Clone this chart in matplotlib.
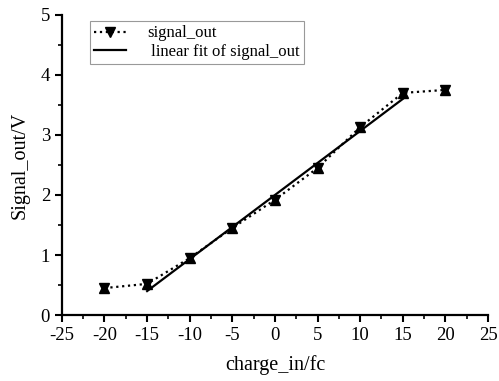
import numpy as np
import matplotlib
matplotlib.use("Agg")
import matplotlib.pyplot as plt
from matplotlib.ticker import MultipleLocator

plt.rcParams['font.family'] = ['Liberation Serif', 'DejaVu Serif']
plt.rcParams['axes.unicode_minus'] = False

# measured points
charge_in = [-20, -15, -10, -5, 0, 5, 10, 15, 20]
signal_out = [0.45, 0.52, 0.95, 1.45, 1.92, 2.45, 3.13, 3.70, 3.75]

# linear fit range and its end values
fit_x = [-15, 15]
fit_y = [0.40, 3.60]

fig = plt.figure(figsize=(4.99, 3.81), dpi=100)
ax = fig.add_axes([0.124, 0.173, 0.854, 0.788])

ax.plot(charge_in, signal_out, linestyle=':', color='black', linewidth=1.6,
        marker='v', markersize=7, label='signal_out')
ax.plot(charge_in, signal_out, linestyle='none', color='black',
        marker='^', markersize=7)
ax.plot(fit_x, fit_y, linestyle='-', color='black', linewidth=1.6,
        label=' linear fit of signal_out')

ax.set_xlim(-25, 25)
ax.set_ylim(0, 5)
ax.xaxis.set_major_locator(MultipleLocator(5))
ax.xaxis.set_minor_locator(MultipleLocator(2.5))
ax.yaxis.set_major_locator(MultipleLocator(1))
ax.yaxis.set_minor_locator(MultipleLocator(0.5))

for side in ['top', 'right']:
    ax.spines[side].set_visible(False)
for side in ['left', 'bottom']:
    ax.spines[side].set_linewidth(1.6)

ax.tick_params(which='major', direction='out', length=5, width=1.5, labelsize=13.5)
ax.tick_params(which='minor', direction='out', length=3, width=1.2)

ax.set_xlabel('charge_in/fc', fontsize=14.5, labelpad=8)
ax.set_ylabel('Signal_out/V', fontsize=14.5, labelpad=8)

leg = ax.legend(loc='upper left', bbox_to_anchor=(0.058, 0.99), fontsize=12,
                frameon=True, fancybox=False, handlelength=1.9,
                handletextpad=1.3, borderpad=0.25, labelspacing=0.15,
                borderaxespad=0.2)
leg.get_frame().set_edgecolor('gray')
leg.get_frame().set_linewidth(0.8)

fig.savefig('out.png', dpi=100)
